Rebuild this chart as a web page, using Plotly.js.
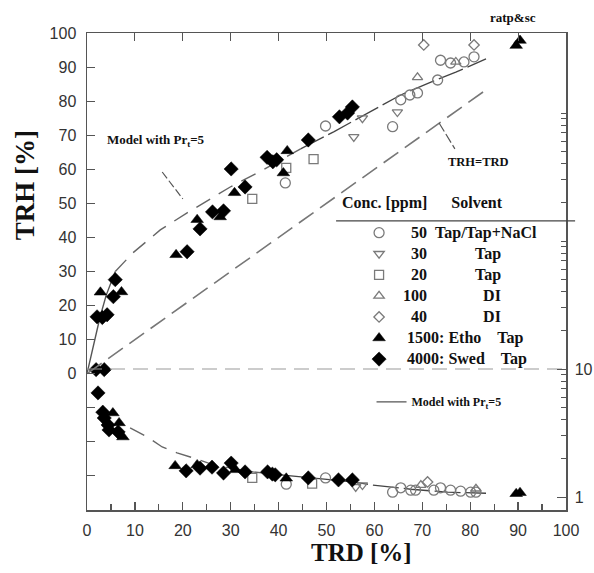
<!DOCTYPE html>
<html>
<head>
<meta charset="utf-8">
<script src="https://cdn.plot.ly/plotly-3.0.1.min.js"></script>
<style>html,body{margin:0;padding:0;background:#fff;}#chart{width:594px;height:573px;}</style>
</head>
<body>
<div id="chart"></div>
<script>
// ---------- Data: upper panel (TRH [%] vs TRD [%]) ----------
const c50_x  = [41.4, 49.8, 63.8, 65.5, 67.4, 69.0, 73.2, 73.8, 75.9, 78.7, 80.8];
const c50_y  = [56.0, 72.7, 72.5, 80.4, 81.8, 82.4, 86.2, 92.0, 91.2, 91.5, 93.0];
const c30_x  = [55.7, 57.5, 64.8];
const c30_y  = [69.5, 75.0, 76.8];
const c20_x  = [34.5, 41.6, 47.3];
const c20_y  = [51.3, 60.4, 63.0];
const c100_x = [69.0, 77.0];
const c100_y = [87.0, 91.5];
const c40_x  = [70.3, 80.8];
const c40_y  = [96.5, 96.5];
const etho_x = [2.8, 7.2, 18.6, 23.0, 27.8, 30.8, 41.0, 41.8, 89.6, 90.4];
const etho_y = [23.9, 24.0, 34.9, 45.2, 46.0, 53.1, 58.9, 65.4, 96.3, 97.8];
const swed_x = [1.9, 3.6, 2.1, 3.2, 4.2, 5.5, 5.9, 20.9, 23.6, 26.2, 28.5, 30.1, 33.0, 37.6, 38.8, 39.6, 46.2, 52.7, 54.4, 55.4];
const swed_y = [1.2, 1.2, 16.7, 16.5, 17.3, 22.6, 27.6, 35.8, 42.5, 47.5, 47.8, 60.1, 54.8, 63.5, 62.2, 62.8, 68.6, 75.4, 76.5, 78.3];

// ---------- Data: lower panel (TRH/TRD, log scale, right axis) ----------
const r50_x  = [41.6, 49.8, 63.8, 65.5, 67.6, 68.6, 72.4, 73.8, 75.9, 78.0, 80.1, 81.2];
const r50_y  = [1.26, 1.41, 1.09, 1.18, 1.13, 1.13, 1.13, 1.18, 1.13, 1.11, 1.09, 1.09];
const r30_x  = [56.1, 57.5];
const r30_y  = [1.20, 1.24];
const r20_x  = [34.5, 47.0];
const r20_y  = [1.41, 1.27];
const r100_x = [69.7, 81.2];
const r100_y = [1.24, 1.16];
const r40_x  = [71.1];
const r40_y  = [1.31];
const rEtho_x = [5.4, 6.7, 7.5, 18.4, 23.0, 31.0, 41.6, 89.6, 90.4];
const rEtho_y = [4.53, 3.79, 2.94, 1.75, 1.78, 1.63, 1.40, 1.06, 1.08];
const rSwed_x = [2.3, 3.3, 3.6, 4.4, 4.6, 6.5, 20.7, 23.6, 26.1, 28.5, 30.1, 33.0, 37.7, 38.7, 39.3, 46.2, 52.5, 55.4];
const rSwed_y = [6.5, 4.6, 4.14, 3.65, 3.34, 3.22, 1.60, 1.68, 1.71, 1.54, 1.84, 1.57, 1.57, 1.51, 1.49, 1.41, 1.36, 1.36];

// ---------- Model with Pr_t = 5 ----------
const modelA_x = [0, 1.3, 2.7, 4.0, 5.9];
const modelA_y = [0, 8.0, 16.5, 23.0, 30.0];
const modelB_x = [5.9, 9.6, 15.3, 20.9, 29.9, 37.0, 44.6];
const modelB_y = [30.0, 35.5, 42.2, 47.2, 54.8, 60.0, 66.0];
const modelC_x = [44.6, 51.5, 58.6, 65.5, 71.8, 77.0, 83.3];
const modelC_y = [66.0, 71.0, 76.5, 81.8, 85.6, 88.5, 92.4];
const lowB_x = [9.0, 12.6, 15.7, 18.8, 22.2, 26.4, 34.7, 40.4];
const lowB_y = [3.46, 2.94, 2.46, 2.21, 2.02, 1.78, 1.57, 1.49];
const lowC_x = [40.4, 55.6, 59.6, 67.6, 75.3, 83.3];
const lowC_y = [1.49, 1.31, 1.24, 1.15, 1.09, 1.07];

// ---------- Reference lines ----------
const equal_x = [0, 83.3];
const equal_y = [0, 83.3];
const split_x = [0, 100];
const split_y = [10, 10];

// ---------- Labels ----------
const xTicks = [0, 10, 20, 30, 40, 50, 60, 70, 80, 90, 100];
const yTicks = [0, 10, 20, 30, 40, 50, 60, 70, 80, 90, 100];
const yMinorTicks = [-30, -20, -10];
const rTicks = [1, 10];
const rMinorTicks = [2,3,4,5,6,7,8,9,20,30,40,50,60,70,80,90,100,200,300,400,500,600,700,800,900,1000];
const concLabels = ['50', '30', '20', '100', '40', '1500: Etho', '4000: Swed'];
const solventLabels = ['Tap/Tap+NaCl', 'Tap', 'Tap', 'DI', 'DI', 'Tap', 'Tap'];
const leadPad = [3, 3, 3, 1, 3, 2, 2];
const midPad = [2, 12, 12, 14, 14, 4, 4];

const NB = '\u00a0';
const legendName = i => '<span style="font-size:16px">' + NB.repeat(leadPad[i]) + concLabels[i] +
  NB.repeat(midPad[i]) + solventLabels[i] + '</span>';

const GRAY = '#7a7a7a';
const openMarker = (sym, size) => ({symbol: sym, size: size, color: GRAY, line: {color: GRAY, width: 1.3}});
const fillMarker = (sym, size) => ({symbol: sym, size: size, color: '#000', line: {color: '#000', width: 0.5}});

const series = [
  {x: c50_x, y: c50_y, rx: r50_x, ry: r50_y, m: openMarker('circle-open', 10)},
  {x: c30_x, y: c30_y, rx: r30_x, ry: r30_y, m: openMarker('triangle-down-open', 9)},
  {x: c20_x, y: c20_y, rx: r20_x, ry: r20_y, m: openMarker('square-open', 9)},
  {x: c100_x, y: c100_y, rx: r100_x, ry: r100_y, m: openMarker('triangle-up-open', 9)},
  {x: c40_x, y: c40_y, rx: r40_x, ry: r40_y, m: openMarker('diamond-open', 8)},
  {x: etho_x, y: etho_y, rx: rEtho_x, ry: rEtho_y, m: fillMarker('triangle-up', 11)},
  {x: swed_x, y: swed_y, rx: rSwed_x, ry: rSwed_y, m: fillMarker('diamond', 11)}
];

const traces = [];
traces.push({x: split_x, y: split_y, xaxis: 'x', yaxis: 'y2', mode: 'lines', showlegend: false,
  line: {color: '#9a9a9a', width: 1.2, dash: '15px,8px'}, hoverinfo: 'skip'});
traces.push({x: equal_x, y: equal_y, xaxis: 'x2', yaxis: 'y', mode: 'lines', showlegend: false,
  line: {color: '#777', width: 1.6, dash: '18px,8px'}, hoverinfo: 'skip'});
traces.push({x: modelA_x, y: modelA_y, mode: 'lines', legend: 'legend2',
  name: '<span style="font-size:12px">Model with Pr<sub>t</sub>=5</span>',
  line: {color: '#555', width: 1.4}});
traces.push({x: modelB_x, y: modelB_y, mode: 'lines', showlegend: false, line: {color: '#666', width: 1.4, dash: '16px,10px'}});
traces.push({x: modelC_x, y: modelC_y, mode: 'lines', showlegend: false, line: {color: '#444', width: 1.3, dash: '26px,5px'}});
traces.push({x: lowB_x, y: lowB_y, yaxis: 'y2', mode: 'lines', showlegend: false, line: {color: '#666', width: 1.4, dash: '16px,10px'}});
traces.push({x: lowC_x, y: lowC_y, yaxis: 'y2', mode: 'lines', showlegend: false, line: {color: '#444', width: 1.3, dash: '26px,5px'}});
series.forEach((s, i) => {
  traces.push({x: s.x, y: s.y, mode: 'markers', name: legendName(i), legendgroup: 'g' + i, marker: s.m});
});
series.forEach((s, i) => {
  traces.push({x: s.rx, y: s.ry, yaxis: 'y2', mode: 'markers', showlegend: false, legendgroup: 'g' + i, marker: s.m});
});

const tickFont = {family: 'Liberation Sans, Arial, sans-serif', size: 16, color: '#333'};
const serifBold = (size) => ({family: 'Liberation Serif, Times New Roman, serif', size: size, color: '#111', weight: 'bold'});

const layout = {
  width: 594, height: 573,
  margin: {l: 87, r: 28, t: 33, b: 63},
  paper_bgcolor: '#fff', plot_bgcolor: '#fff',
  showlegend: true,
  xaxis: {
    range: [0, 100], tickmode: 'array', tickvals: xTicks, ticks: 'inside', ticklen: 8, tickwidth: 1.2, tickcolor: '#555',
    minor: {dtick: 5, ticks: 'inside', ticklen: 6, tickcolor: '#555', showgrid: false},
    showline: true, linecolor: '#555', linewidth: 1.5, showgrid: false, zeroline: false,
    tickfont: tickFont, ticklabelstandoff: 5
  },
  xaxis2: {
    range: [0, 100], overlaying: 'x', side: 'top', dtick: 10, ticks: 'inside', ticklen: 8, tickcolor: '#555',
    showticklabels: false, showline: true, linecolor: '#555', linewidth: 1.5, showgrid: false, zeroline: false
  },
  yaxis: {
    range: [-40, 100], tickmode: 'array', tickvals: yTicks, ticks: 'inside', ticklen: 8, tickcolor: '#555',
    minor: {tickmode: 'array', tickvals: yMinorTicks, ticks: 'inside', ticklen: 8, tickcolor: '#555', showgrid: false},
    showline: true, linecolor: '#555', linewidth: 1.5, showgrid: false, zeroline: false,
    tickfont: tickFont, ticklabelstandoff: 6
  },
  yaxis2: {
    type: 'log', range: [-0.1016, 3.625], overlaying: 'y', side: 'right',
    tickmode: 'array', tickvals: rTicks, ticks: 'inside', ticklen: 9, tickcolor: '#555',
    minor: {tickmode: 'array', tickvals: rMinorTicks, ticks: 'inside', ticklen: 5, tickcolor: '#555', showgrid: false},
    showline: true, linecolor: '#555', linewidth: 1.5, showgrid: false, zeroline: false,
    tickfont: tickFont, ticklabelstandoff: 4
  },
  legend: {
    x: 0.568, y: 0.614, xanchor: 'left', yanchor: 'top', bgcolor: 'rgba(0,0,0,0)',
    font: serifBold(13.9), tracegroupgap: 0
  },
  legend2: {
    x: 0.594, y: 0.257, xanchor: 'left', yanchor: 'top', bgcolor: 'rgba(0,0,0,0)',
    font: serifBold(11)
  },
  annotations: [
    {xref: 'paper', yref: 'paper', x: -0.1294, y: 0.681, xanchor: 'center', yanchor: 'middle', showarrow: false,
     textangle: -90, text: 'TRH [%]', font: serifBold(27)},
    {xref: 'paper', yref: 'paper', x: 0.574, y: -0.089, xanchor: 'center', yanchor: 'middle', showarrow: false,
     text: 'TRD [%]', font: serifBold(25)},
    {xref: 'paper', yref: 'paper', x: 0.528, y: 0.644, xanchor: 'left', yanchor: 'middle', showarrow: false,
     text: 'Conc. [ppm]' + NB.repeat(6) + 'Solvent', font: serifBold(16)},
    {xref: 'x', yref: 'y', x: 14.3, y: 68.4, showarrow: false, text: 'Model with Pr<sub>t</sub>=5', font: serifBold(13)},
    {xref: 'x', yref: 'y', x: 81.8, y: 62.2, showarrow: false, text: 'TRH=TRD', font: serifBold(12.5)},
    {xref: 'x', yref: 'paper', x: 88.9, y: 1.033, yanchor: 'middle', showarrow: false, text: 'ratp&amp;sc', font: serifBold(13)}
  ],
  shapes: [
    {type: 'line', xref: 'paper', yref: 'paper', x0: 0.52, x1: 1.019, y0: 0.606, y1: 0.606, line: {color: '#444', width: 1.3}},
    {type: 'line', xref: 'x', yref: 'y', x0: 15.7, y0: 59.2, x1: 20.0, y1: 51.3, line: {color: '#555', width: 1.2, dash: '8px,3px'}},
    {type: 'line', xref: 'x', yref: 'y', x0: 73.5, y0: 73.6, x1: 76.8, y1: 66.0, line: {color: '#555', width: 1.2, dash: '10px,3px'}}
  ]
};

Plotly.newPlot('chart', traces, layout, {staticPlot: true, displayModeBar: false});
</script>
</body>
</html>
